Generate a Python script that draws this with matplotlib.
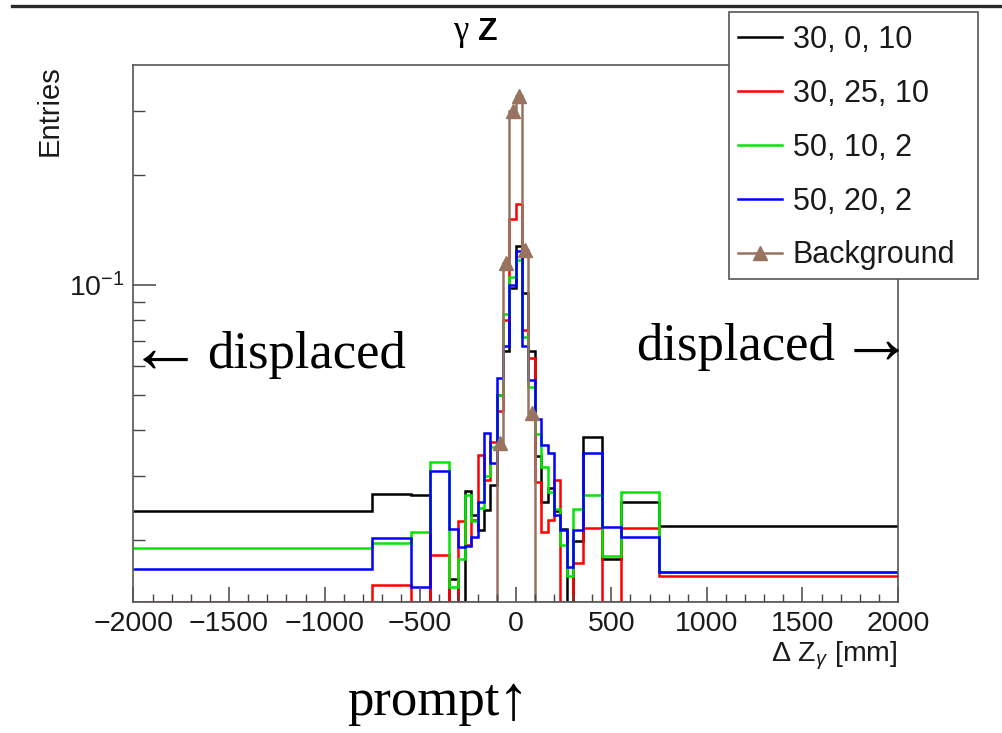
import numpy as np
import matplotlib
matplotlib.use('Agg')
import matplotlib.pyplot as plt
from matplotlib.lines import Line2D
from matplotlib.patches import Rectangle
from matplotlib.ticker import NullFormatter

plt.rcParams['font.family'] = ['Liberation Sans', 'DejaVu Sans']
plt.rcParams['mathtext.fontset'] = 'custom'
plt.rcParams['mathtext.rm'] = 'Liberation Sans'
plt.rcParams['mathtext.it'] = 'Liberation Sans:italic'
plt.rcParams['mathtext.bf'] = 'Liberation Sans:bold'

# variable bin edges, mm
edges = [-2000, -750, -550, -450, -350, -300, -266.7, -233.3, -200, -166.7,
         -133.3, -100, -66.7, -33.3, 0, 33.3, 66.7, 100, 133.3, 166.7,
         200, 233.3, 266.7, 300, 350, 450, 550, 750, 2000]

# bin contents (0 = empty bin)
h_30_0_10 = [0.0241, 0.0268, 0.0266, 0, 0.0156, 0, 0.0273, 0.0234, 0.0213, 0.0242,
             0.0283, 0.050, 0.066, 0.098, 0.128, 0.095, 0.066, 0.034, 0.0255, 0.0278,
             0.024, 0.0214, 0, 0.0199, 0.0384, 0.0178, 0.0254, 0.0218]
h_30_25_10 = [0, 0.0151, 0, 0.0182, 0, 0.0225, 0.0194, 0.0227, 0.0342, 0.0292,
              0.0372, 0.045, 0.080, 0.151, 0.167, 0.075, 0.063, 0.0289, 0.0211, 0.0227,
              0.0292, 0, 0, 0.0173, 0.0216, 0, 0.0216, 0.0159]
h_50_10_2 = [0.0190, 0.0196, 0.0210, 0.0328, 0.0149, 0.0178, 0.0266, 0.0225, 0.0245, 0.030,
             0.036, 0.050, 0.083, 0.105, 0.117, 0.072, 0.0526, 0.039, 0.0318, 0.0271,
             0.0244, 0.0194, 0.0159, 0.0244, 0.0266, 0.0181, 0.0271, 0.0164]
h_50_20_2 = [0.0167, 0.0203, 0.0149, 0.0310, 0.0214, 0.0191, 0.0193, 0.0204, 0.0255, 0.0392,
             0.0326, 0.0556, 0.068, 0.100, 0.124, 0.068, 0.055, 0.043, 0.0364, 0.0347,
             0.0234, 0.0213, 0.0169, 0.0213, 0.0347, 0.0217, 0.0204, 0.0164]
h_bkg = [0, 0, 0, 0, 0, 0, 0, 0, 0, 0,
         0, 0.0368, 0.1149, 0.30, 0.33, 0.1247, 0.0446, 0, 0, 0,
         0, 0, 0, 0, 0, 0, 0, 0]

labels = ['30, 0, 10', '30, 25, 10', '50, 10, 2', '50, 20, 2', 'Background']
colors = ['black', '#ff0000', '#00e600', '#0000ff', '#98735f']

ymin, ymax = 0.01356, 0.40

W, H = 1003, 733
fig = plt.figure(figsize=(W / 100, H / 100), dpi=100)
ax = fig.add_axes([133.5 / W, 1 - 601.7 / H, (898 - 133.5) / W, (601.7 - 65) / H])

edges = np.array(edges)
series = [h_30_0_10, h_30_25_10, h_50_10_2, h_50_20_2, h_bkg]
for vals, c in zip(series, colors):
    v = np.array(vals, dtype=float)
    v = np.where(v > 0, v, ymin)   # empty bins drawn on the floor, like ROOT
    ax.stairs(v, edges, baseline=None, color=c, lw=1.8)

# background markers
bkg = np.array(h_bkg)
centers = 0.5 * (edges[:-1] + edges[1:])
ax.plot(centers[bkg > 0], bkg[bkg > 0], '^', color=colors[4], ms=10, clip_on=False)

ax.set_yscale('log')
ax.set_xlim(-2000, 2000)
ax.set_ylim(ymin, ymax)
ax.set_xticks(np.arange(-2000, 2001, 500))
ax.set_xticks(np.arange(-2000, 2001, 100), minor=True)
ax.set_yticks([0.1])
ax.set_yticklabels(['$10^{-1}$'])
ax.set_yticks([0.02, 0.03, 0.04, 0.05, 0.06, 0.07, 0.08, 0.09, 0.2, 0.3], minor=True)
ax.yaxis.set_minor_formatter(NullFormatter())

ax.tick_params(axis='x', which='major', direction='in', length=11, width=1.1,
               labelsize=20.5, pad=7, colors='#444', labelcolor='#1a1a1a')
ax.tick_params(axis='x', which='minor', direction='in', length=5.5, width=1.0, colors='#444')
ax.tick_params(axis='y', which='major', direction='in', length=16.5, width=1.1,
               labelsize=20.5, pad=6, colors='#444', labelcolor='#1a1a1a')
ax.tick_params(axis='y', which='minor', direction='in', length=8.5, width=1.0, colors='#444')
for s in ax.spines.values():
    s.set_color('#555')
    s.set_linewidth(1.2)

# axis titles
fig.text(898 / W, 1 - 656 / H, r'$\Delta$ Z$_{\gamma}$ [mm]', ha='right', va='center',
         fontsize=20.5, color='#1a1a1a')
fig.text(50 / W, 1 - 65 / H, 'Entries', rotation=90, ha='center', va='top',
         fontsize=21, color='#1a1a1a')

# title
fig.text(461 / W, 1 - 40 / H, 'γ', ha='center', va='baseline', fontsize=25,
         family=['Liberation Serif', 'DejaVu Serif'])
fig.text(488 / W, 1 - 40 / H, 'Z', ha='center', va='baseline', fontsize=23, weight='heavy')

# thick rule at the very top
fig.add_artist(Line2D([12 / W, 1.0], [1 - 5.7 / H, 1 - 5.7 / H], lw=2.4, color='#2a2a2a'))

# legend box covering the frame corner
fig.add_artist(Rectangle((729 / W, 1 - 279 / H), (978 - 729) / W, (279 - 11.7) / H,
                         transform=fig.transFigure, facecolor='white', edgecolor='#555',
                         lw=1.2, zorder=4))
handles = [Line2D([], [], color=c, lw=1.8) for c in colors[:4]]
handles.append(Line2D([], [], color=colors[4], lw=1.8, marker='^', ms=10))
leg = fig.legend(handles, labels, loc='upper left', bbox_to_anchor=(738 / W, 1 - 25 / H),
                 frameon=False, borderpad=0, borderaxespad=0, fontsize=22,
                 handlelength=1.45, handletextpad=0.35, labelspacing=0.78)
leg.set_zorder(5)
for t in leg.get_texts():
    t.set_color('#1a1a1a')

# annotations
serif = ['Liberation Serif', 'DejaVu Serif']
fig.text(207 / W, 1 - 368 / H, 'displaced', ha='left', va='baseline', fontsize=38, family=serif)
fig.text(165 / W, 1 - 354 / H, '←', ha='center', va='center', fontsize=54, family=serif)
fig.text(835 / W, 1 - 360 / H, 'displaced', ha='right', va='baseline', fontsize=38, family=serif)
fig.text(876 / W, 1 - 345 / H, '→', ha='center', va='center', fontsize=54, family=serif)
fig.text(347 / W, 1 - 715 / H, 'prompt', ha='left', va='baseline', fontsize=38, family=serif)
fig.text(513 / W, 1 - 704 / H, '↑', ha='center', va='center', fontsize=45, family=serif)

fig.savefig('out.png', dpi=100)
